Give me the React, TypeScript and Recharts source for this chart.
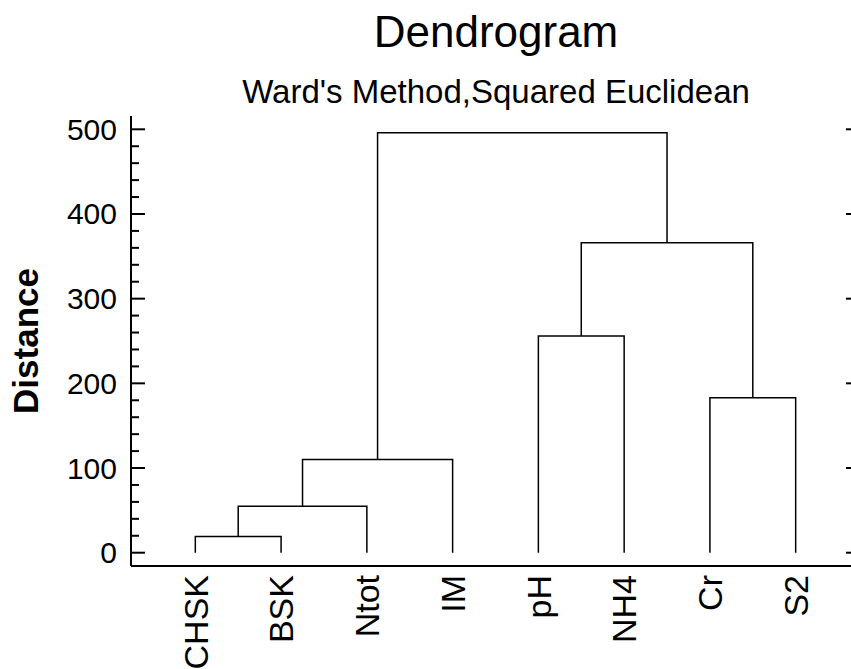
import React from 'react';
import { ComposedChart, Line, XAxis, YAxis } from 'recharts';

// ---- data ----
const leafLabels = ['CHSK', 'BSK', 'Ntot', 'IM', 'pH', 'NH4', 'Cr', 'S2'];
// linkage: pairs of node indices (leaves 0..7, merged nodes 8..)
const mergeLeft = [0, 8, 9, 4, 6, 11, 10];
const mergeRight = [1, 2, 3, 5, 7, 12, 13];
const mergeHeight = [19, 55, 110, 256, 183, 366, 496];
const majorTicks = [0, 100, 200, 300, 400, 500];
const minorStep = 20;
const titleText = 'Dendrogram';
const subtitleText = "Ward's Method,Squared Euclidean";
const yLabel = 'Distance';

const FONT = '"Liberation Sans", Arial, Helvetica, sans-serif';

// build node positions
const nodeX: number[] = leafLabels.map((_, i) => i + 1);
const nodeH: number[] = leafLabels.map(() => 0);
mergeLeft.forEach((l, k) => {
  const r = mergeRight[k];
  nodeX.push((nodeX[l] + nodeX[r]) / 2);
  nodeH.push(mergeHeight[k]);
});
const links = mergeLeft.map((l, k) => {
  const r = mergeRight[k];
  const h = mergeHeight[k];
  return [
    { x: nodeX[l], y: nodeH[l] },
    { x: nodeX[l], y: h },
    { x: nodeX[r], y: h },
    { x: nodeX[r], y: nodeH[r] },
  ];
});

const allTicks: number[] = [];
for (let v = majorTicks[0]; v <= majorTicks[majorTicks.length - 1]; v += minorStep) allTicks.push(v);

const LeftTick = (props: any) => {
  const { x, y, payload } = props;
  const major = majorTicks.includes(payload.value);
  return (
    <g>
      <line x1={x} y1={y} x2={x + (major ? 14 : 8)} y2={y} stroke="#000" strokeWidth={2} />
      {major && (
        <text x={x - 14} y={y} dy="0.35em" textAnchor="end" fontSize={30} fontFamily={FONT} fill="#000">
          {payload.value}
        </text>
      )}
    </g>
  );
};

const RightTick = (props: any) => {
  const { x, y, payload } = props;
  const major = majorTicks.includes(payload.value);
  return <line x1={x} y1={y} x2={x - (major ? 14 : 8)} y2={y} stroke="#000" strokeWidth={2} />;
};

const BottomTick = (props: any) => {
  const { x, y, payload } = props;
  const label = leafLabels[Math.round(payload.value) - 1];
  const ty = y + 9;
  return (
    <text
      x={x}
      y={ty}
      dy="0.36em"
      transform={`rotate(-90, ${x}, ${ty})`}
      textAnchor="end"
      fontSize={34}
      fontFamily={FONT}
      fill="#000"
    >
      {label}
    </text>
  );
};

export default function App() {
  return (
    <div style={{ position: 'absolute', left: 0, top: 0, width: 851, height: 669, overflow: 'hidden', background: '#fff' }}>
      <ComposedChart width={880} height={669} margin={{ top: 116, right: 0, bottom: 0, left: 0 }}>
        <XAxis
          xAxisId="b"
          dataKey="x"
          type="number"
          domain={[0.25, 8.75]}
          allowDataOverflow
          ticks={leafLabels.map((_, i) => i + 1)}
          interval={0}
          height={103}
          tickSize={0}
          tickMargin={0}
          tickLine={false}
          axisLine={{ stroke: '#000', strokeWidth: 2 }}
          tick={<BottomTick />}
        />
        <XAxis
          xAxisId="t"
          orientation="top"
          type="number"
          domain={[0.25, 8.75]}
          allowDataOverflow
          height={0}
          tick={false}
          tickLine={false}
          axisLine={{ stroke: '#000', strokeWidth: 2 }}
        />
        <YAxis
          yAxisId="l"
          type="number"
          domain={[-15.7, 515.7]}
          allowDataOverflow
          ticks={allTicks}
          interval={0}
          width={131}
          tickSize={0}
          tickMargin={0}
          tickLine={false}
          axisLine={{ stroke: '#000', strokeWidth: 2 }}
          tick={<LeftTick />}
        />
        <YAxis
          yAxisId="r"
          orientation="right"
          type="number"
          domain={[-15.7, 515.7]}
          allowDataOverflow
          ticks={allTicks}
          interval={0}
          width={20}
          tickSize={0}
          tickMargin={0}
          tickLine={false}
          axisLine={{ stroke: '#000', strokeWidth: 2 }}
          tick={<RightTick />}
        />
        {links.map((d, i) => (
          <Line
            key={i}
            xAxisId="b"
            yAxisId="l"
            data={d}
            dataKey="y"
            type="linear"
            dot={false}
            activeDot={false}
            stroke="#000"
            strokeWidth={1.5}
            isAnimationActive={false}
          />
        ))}
      </ComposedChart>
      <svg width={851} height={669} style={{ position: 'absolute', left: 0, top: 0, pointerEvents: 'none' }}>
        <text x={496} y={47} textAnchor="middle" fontSize={44} fontFamily={FONT} fill="#000">
          {titleText}
        </text>
        <text x={496} y={103} textAnchor="middle" fontSize={33} fontFamily={FONT} fill="#000">
          {subtitleText}
        </text>
        <text
          x={26}
          y={341}
          transform="rotate(-90, 26, 341)"
          textAnchor="middle"
          dy="0.35em"
          fontSize={35}
          fontWeight="bold"
          fontFamily={FONT}
          fill="#000"
        >
          {yLabel}
        </text>
      </svg>
    </div>
  );
}
